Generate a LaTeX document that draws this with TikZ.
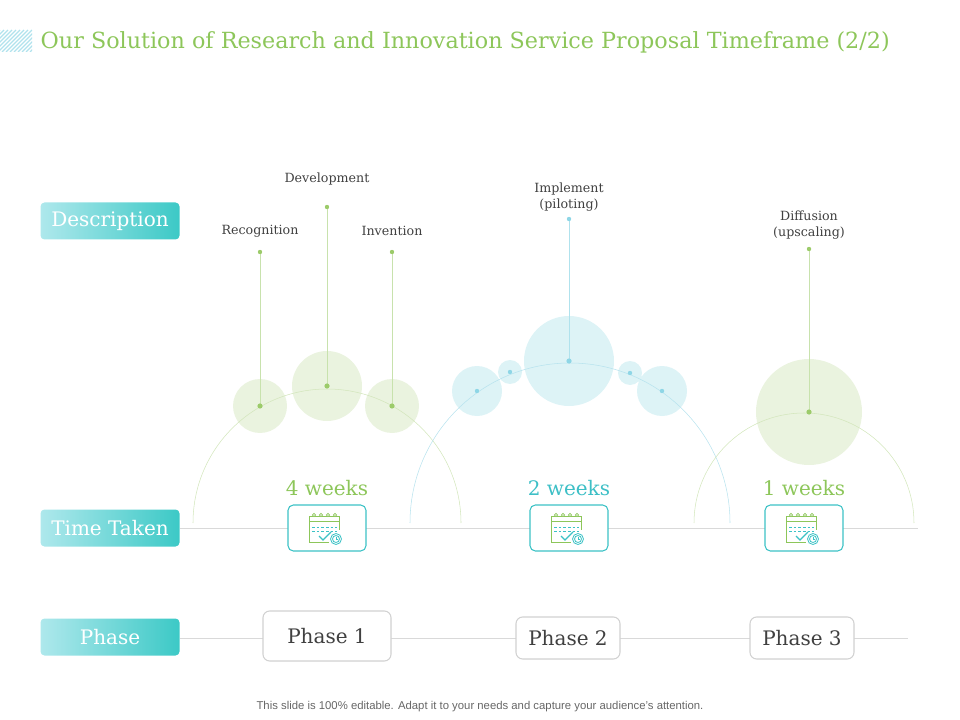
\documentclass[tikz,border=0pt]{standalone}
\usepackage{fontspec}
\setmainfont{DejaVu Serif}
\setsansfont{Liberation Sans}
\begin{document}
\begin{tikzpicture}[x=0.75pt,y=-0.75pt,
  lab/.style={font=\fontsize{9.5}{12}\selectfont,text=black!75,align=center},
  stem/.style={line width=0.7pt},
  side/.style={rounded corners=3pt,left color=cl,right color=cr,draw=none,minimum width=104.25pt,minimum height=27.75pt,text=white,font=\fontsize{15}{18}\selectfont},
  iconbox/.style={draw=icc,line width=0.8pt,rounded corners=4pt,minimum width=58.5pt,minimum height=34.5pt},
  phasebox/.style={draw=black!18,line width=0.8pt,rounded corners=5pt,fill=white,font=\fontsize{15}{18}\selectfont,text=black!75},
  weeks/.style={font=\fontsize{15}{18}\selectfont}]
\definecolor{gc}{HTML}{EAF3DF}
\definecolor{gl}{HTML}{9CCB6A}
\definecolor{gline}{HTML}{D3E6BC}
\definecolor{cc}{HTML}{DDF3F6}
\definecolor{cl2}{HTML}{8ED6E6}
\definecolor{cline}{HTML}{B8E3EE}
\definecolor{cl}{HTML}{AEE8EC}
\definecolor{cr}{HTML}{3CC9C6}
\definecolor{icc}{HTML}{3CC2C6}
\definecolor{tg}{HTML}{8DC65A}
\definecolor{tc}{HTML}{3DBFC6}
\useasboundingbox (0,0) rectangle (960,720);
% title
\begin{scope}
\clip (0,30) rectangle (32,52);
\foreach \i in {-30,-26,...,40} \draw[cl2!70,line width=0.8pt] (\i,52) -- (\i+22,30);
\end{scope}
\node[anchor=west,text=tg,font=\fontsize{16.7}{20}\selectfont] (title) at (36,42) {Our Solution of Research and Innovation Service Proposal Timeframe (2/2)};
% axis lines
\draw[black!15] (180,528) -- (918,528);
\draw[black!15] (180,638) -- (908,638);
% circles
\fill[gc] (260,406) circle (27) (327,386) circle (35) (392,406) circle (27);
\fill[cc] (477,391) circle (25) (510,372) circle (12) (569,361) circle (45) (630,373) circle (12) (662,391) circle (25);
\fill[gc] (809,412) circle (53);
% arcs
\draw[gline] (193,523) arc (180:360:134);
\draw[cline] (410,523) arc (180:360:160);
\draw[gline] (694,523) arc (180:360:110);
% stems
\foreach \x/\y/\t in {260/406/252,327/386/207,392/406/252,809/412/249}{
  \draw[gl!55,stem] (\x,\y) -- (\x,\t);
  \fill[gl] (\x,\y) circle (2.6) (\x,\t) circle (2.2);
}
\draw[cl2!70,stem] (569,361) -- (569,219);
\fill[cl2] (569,361) circle (2.6);
\fill[cl2] (569,219) circle (2.2) (477,391) circle (2.2) (510,372) circle (2.2) (630,373) circle (2.2) (662,391) circle (2.2);
\node[lab] (l1) at (260,231) {Recognition};
\node[lab] (l2) at (327,179) {Development};
\node[lab] (l3) at (392,231) {Invention};
\node[lab] (l4) at (569,197) {Implement\\(piloting)};
\node[lab] (l5) at (809,225) {Diffusion\\(upscaling)};
% side labels
\node[side] (d) at (110,221) {Description};
\node[side] (t) at (110,528) {Time Taken};
\node[side] (p) at (110,637) {Phase};
% weeks
\node[weeks,text=tg] (w1) at (327,488) {4 weeks};
\node[weeks,text=tc] (w2) at (569,488) {2 weeks};
\node[weeks,text=tg] (w3) at (804,488) {1 weeks};
% icons
\foreach \x/\n in {327/i1,569/i2,804/i3}{
  \node[iconbox,fill=white] (\n) at (\x,528) {};
  \begin{scope}[shift={(\x,528)},line width=0.6pt]
    \draw[tg] (-18,-12) -- (12,-12) -- (12,2);
    \draw[tg] (-18,-12) -- (-18,14) -- (2,14);
    \draw[tg] (-18,-7) -- (12,-7);
    \foreach \k in {-13,-6,1,8} \draw[tg,fill=white] (\k,-13) circle (1.6);
    \draw[icc,dash pattern=on 2pt off 1.5pt] (-15,-1) -- (10,-1) (-15,3) -- (10,3);
    \draw[icc,line width=0.9pt] (-8,8) -- (-4,12) -- (4,4);
    \fill[white] (9,11) circle (6);
    \draw[icc] (9,11) circle (5.5) (9,11) circle (3.5);
    \draw[icc] (9,9) -- (9,11) -- (11,11);
  \end{scope}
}
% phases
\node[phasebox,minimum width=96pt,minimum height=37.5pt] (p1) at (327,636) {Phase 1};
\node[phasebox,minimum width=78pt,minimum height=31.5pt] (p2) at (568,638) {Phase 2};
\node[phasebox,minimum width=78pt,minimum height=31.5pt] (p3) at (802,638) {Phase 3};
\node[font=\sffamily\fontsize{8.5}{10}\selectfont,text=black!60] (foot) at (480,707) {This slide is 100\% editable. Adapt it to your needs and capture your audience's attention.};
\end{tikzpicture}
\end{document}
